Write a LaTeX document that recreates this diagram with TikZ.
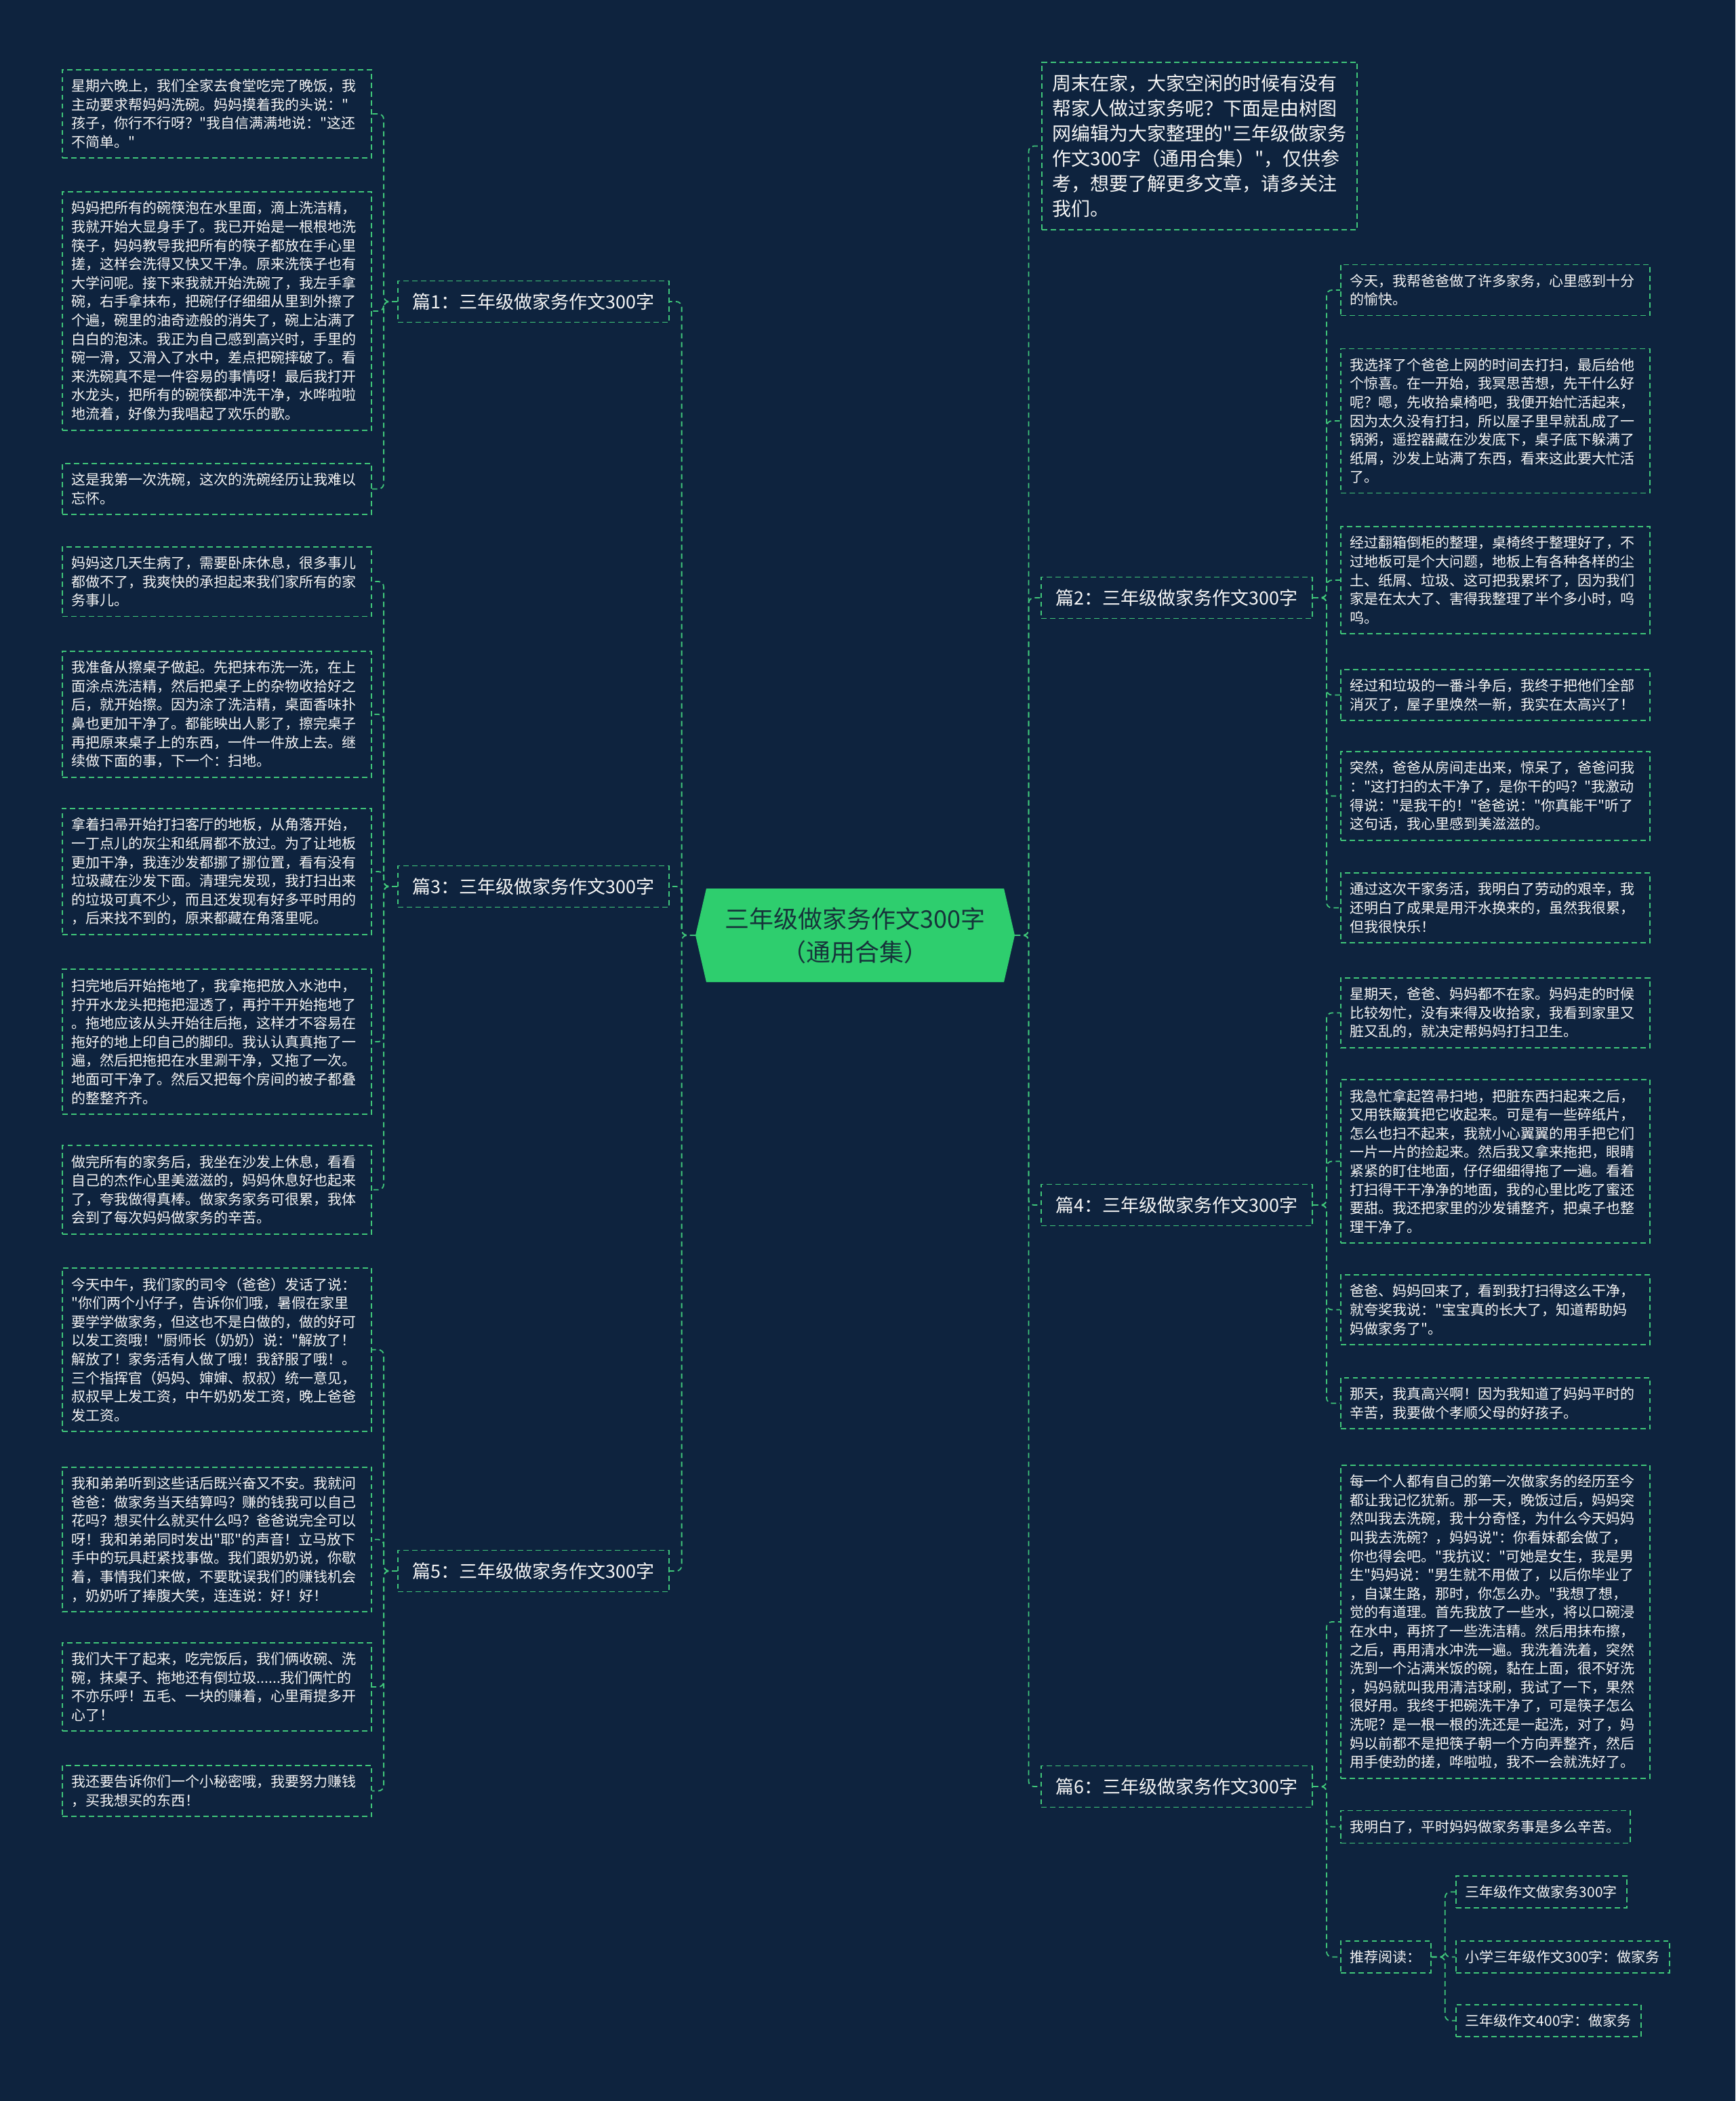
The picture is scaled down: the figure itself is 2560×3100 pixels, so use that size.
\documentclass[tikz,border=0pt]{standalone}
\usepackage{fontspec}
\setmainfont{Noto Sans CJK SC}[Ligatures=TeXOff]
\usetikzlibrary{shapes.symbols}
\definecolor{bgnavy}{RGB}{14,35,62}
\definecolor{linegreen}{RGB}{64,199,122}
\definecolor{hubgreen}{RGB}{46,206,110}
\definecolor{hubtext}{RGB}{22,52,58}
\definecolor{leaftext}{RGB}{245,245,245}

\begin{document}
\begin{tikzpicture}[x=0.5pt,y=-0.5pt,
    box/.style={draw=linegreen,line width=0.9pt,dash pattern=on 3.9pt off 2.6pt,text=leaftext},
    leaf/.style={box,anchor=west,align=left,text width=214pt,inner xsep=7pt,inner ysep=7pt,font=\fontsize{10.5}{13.8}\selectfont},
    leafauto/.style={box,anchor=west,inner xsep=7pt,inner ysep=7pt,font=\fontsize{10.5}{13.8}\selectfont},
    chapter/.style={box,minimum width=200pt,minimum height=30.5pt,inner xsep=6pt,font=\fontsize{13.5}{16}\selectfont},
    hub/.style={shape=signal,signal to=west and east,signal pointer angle=154,fill=hubgreen,text=hubtext,align=center,
        minimum width=235.5pt,minimum height=69pt,inner sep=0pt,font=\fontsize{18}{24.5}\selectfont},
    link/.style={draw=linegreen,line width=0.9pt,dash pattern=on 3.9pt off 2.6pt,rounded corners=4pt}]
    \fill[bgnavy] (0,0) rectangle (2560,3100);
    \useasboundingbox (0,0) rectangle (2560,3100);

    \node[hub] (hub) at (1261.5,1380) {三年级做家务作文300字\\（通用合集）};

    \node[chapter] (c1) at (787,445) {篇1：三年级做家务作文300字};
    \node[chapter] (c3) at (787,1308) {篇3：三年级做家务作文300字};
    \node[chapter] (c5) at (787,2318) {篇5：三年级做家务作文300字};
    \node[chapter] (c2) at (1736,882) {篇2：三年级做家务作文300字};
    \node[chapter] (c4) at (1736,1778) {篇4：三年级做家务作文300字};
    \node[chapter] (c6) at (1736,2636) {篇6：三年级做家务作文300字};

    \node[box,anchor=west,align=left,inner xsep=8pt,inner ysep=9pt,font=\fontsize{14}{18.5}\selectfont] (intro) at (1536,215.5)
        {周末在家，大家空闲的时候有没有\\帮家人做过家务呢？下面是由树图\\网编辑为大家整理的"三年级做家务\\作文300字（通用合集）"，仅供参\\考，想要了解更多文章，请多关注\\我们。};

    \node[leaf] (l1) at (91,168) {星期六晚上，我们全家去食堂吃完了晚饭，我\\主动要求帮妈妈洗碗。妈妈摸着我的头说："\\孩子，你行不行呀？"我自信满满地说："这还\\不简单。"};
    \node[leaf] (l2) at (91,459) {妈妈把所有的碗筷泡在水里面，滴上洗洁精，\\我就开始大显身手了。我已开始是一根根地洗\\筷子，妈妈教导我把所有的筷子都放在手心里\\搓，这样会洗得又快又干净。原来洗筷子也有\\大学问呢。接下来我就开始洗碗了，我左手拿\\碗，右手拿抹布，把碗仔仔细细从里到外擦了\\个遍，碗里的油奇迹般的消失了，碗上沾满了\\白白的泡沫。我正为自己感到高兴时，手里的\\碗一滑，又滑入了水中，差点把碗摔破了。看\\来洗碗真不是一件容易的事情呀！最后我打开\\水龙头，把所有的碗筷都冲洗干净，水哗啦啦\\地流着，好像为我唱起了欢乐的歌。};
    \node[leaf] (l3) at (91,721.5) {这是我第一次洗碗，这次的洗碗经历让我难以\\忘怀。};
    \node[leaf] (l4) at (91,858) {妈妈这几天生病了，需要卧床休息，很多事儿\\都做不了，我爽快的承担起来我们家所有的家\\务事儿。};
    \node[leaf] (l5) at (91,1054) {我准备从擦桌子做起。先把抹布洗一洗，在上\\面涂点洗洁精，然后把桌子上的杂物收拾好之\\后，就开始擦。因为涂了洗洁精，桌面香味扑\\鼻也更加干净了。都能映出人影了，擦完桌子\\再把原来桌子上的东西，一件一件放上去。继\\续做下面的事，下一个：扫地。};
    \node[leaf] (l6) at (91,1286) {拿着扫帚开始打扫客厅的地板，从角落开始，\\一丁点儿的灰尘和纸屑都不放过。为了让地板\\更加干净，我连沙发都挪了挪位置，看有没有\\垃圾藏在沙发下面。清理完发现，我打扫出来\\的垃圾可真不少，而且还发现有好多平时用的\\，后来找不到的，原来都藏在角落里呢。};
    \node[leaf] (l7) at (91,1537) {扫完地后开始拖地了，我拿拖把放入水池中，\\拧开水龙头把拖把湿透了，再拧干开始拖地了\\。拖地应该从头开始往后拖，这样才不容易在\\拖好的地上印自己的脚印。我认认真真拖了一\\遍，然后把拖把在水里涮干净，又拖了一次。\\地面可干净了。然后又把每个房间的被子都叠\\的整整齐齐。};
    \node[leaf] (l8) at (91,1755.5) {做完所有的家务后，我坐在沙发上休息，看看\\自己的杰作心里美滋滋的，妈妈休息好也起来\\了，夸我做得真棒。做家务家务可很累，我体\\会到了每次妈妈做家务的辛苦。};
    \node[leaf] (l9) at (91,1991.5) {今天中午，我们家的司令（爸爸）发话了说：\\"你们两个小仔子，告诉你们哦，暑假在家里\\要学学做家务，但这也不是白做的，做的好可\\以发工资哦！"厨师长（奶奶）说："解放了！\\解放了！家务活有人做了哦！我舒服了哦！。\\三个指挥官（妈妈、婶婶、叔叔）统一意见，\\叔叔早上发工资，中午奶奶发工资，晚上爸爸\\发工资。};
    \node[leaf] (l10) at (91,2271.5) {我和弟弟听到这些话后既兴奋又不安。我就问\\爸爸：做家务当天结算吗？赚的钱我可以自己\\花吗？想买什么就买什么吗？爸爸说完全可以\\呀！我和弟弟同时发出"耶"的声音！立马放下\\手中的玩具赶紧找事做。我们跟奶奶说，你歇\\着，事情我们来做，不要耽误我们的赚钱机会\\，奶奶听了捧腹大笑，连连说：好！好！};
    \node[leaf] (l11) at (91,2489) {我们大干了起来，吃完饭后，我们俩收碗、洗\\碗，抹桌子、拖地还有倒垃圾......我们俩忙的\\不亦乐呼！五毛、一块的赚着，心里甭提多开\\心了！};
    \node[leaf] (l12) at (91,2642.5) {我还要告诉你们一个小秘密哦，我要努力赚钱\\，买我想买的东西！};

    \node[leaf] (r1) at (1977,428) {今天，我帮爸爸做了许多家务，心里感到十分\\的愉快。};
    \node[leaf] (r2) at (1977,621) {我选择了个爸爸上网的时间去打扫，最后给他\\个惊喜。在一开始，我冥思苦想，先干什么好\\呢？嗯，先收拾桌椅吧，我便开始忙活起来，\\因为太久没有打扫，所以屋子里早就乱成了一\\锅粥，遥控器藏在沙发底下，桌子底下躲满了\\纸屑，沙发上站满了东西，看来这此要大忙活\\了。};
    \node[leaf] (r3) at (1977,856) {经过翻箱倒柜的整理，桌椅终于整理好了，不\\过地板可是个大问题，地板上有各种各样的尘\\土、纸屑、垃圾、这可把我累坏了，因为我们\\家是在太大了、害得我整理了半个多小时，呜\\呜。};
    \node[leaf] (r4) at (1977,1025.5) {经过和垃圾的一番斗争后，我终于把他们全部\\消灭了，屋子里焕然一新，我实在太高兴了！};
    \node[leaf] (r5) at (1977,1174.5) {突然，爸爸从房间走出来，惊呆了，爸爸问我\\："这打扫的太干净了，是你干的吗？"我激动\\得说："是我干的！"爸爸说："你真能干"听了\\这句话，我心里感到美滋滋的。};
    \node[leaf] (r6) at (1977,1339.5) {通过这次干家务活，我明白了劳动的艰辛，我\\还明白了成果是用汗水换来的，虽然我很累，\\但我很快乐！};
    \node[leaf] (r7) at (1977,1494.5) {星期天，爸爸、妈妈都不在家。妈妈走的时候\\比较匆忙，没有来得及收拾家，我看到家里又\\脏又乱的，就决定帮妈妈打扫卫生。};
    \node[leaf] (r8) at (1977,1713.5) {我急忙拿起笤帚扫地，把脏东西扫起来之后，\\又用铁簸箕把它收起来。可是有一些碎纸片，\\怎么也扫不起来，我就小心翼翼的用手把它们\\一片一片的捡起来。然后我又拿来拖把，眼睛\\紧紧的盯住地面，仔仔细细得拖了一遍。看着\\打扫得干干净净的地面，我的心里比吃了蜜还\\要甜。我还把家里的沙发铺整齐，把桌子也整\\理干净了。};
    \node[leaf] (r9) at (1977,1932.5) {爸爸、妈妈回来了，看到我打扫得这么干净，\\就夸奖我说："宝宝真的长大了，知道帮助妈\\妈做家务了"。};
    \node[leaf] (r10) at (1977,2070.5) {那天，我真高兴啊！因为我知道了妈妈平时的\\辛苦，我要做个孝顺父母的好孩子。};
    \node[leaf] (r11) at (1977,2393) {每一个人都有自己的第一次做家务的经历至今\\都让我记忆犹新。那一天，晚饭过后，妈妈突\\然叫我去洗碗，我十分奇怪，为什么今天妈妈\\叫我去洗碗？，妈妈说"：你看妹都会做了，\\你也得会吧。"我抗议："可她是女生，我是男\\生"妈妈说："男生就不用做了，以后你毕业了\\，自谋生路，那时，你怎么办。"我想了想，\\觉的有道理。首先我放了一些水，将以口碗浸\\在水中，再挤了一些洗洁精。然后用抹布擦，\\之后，再用清水冲洗一遍。我洗着洗着，突然\\洗到一个沾满米饭的碗，黏在上面，很不好洗\\，妈妈就叫我用清洁球刷，我试了一下，果然\\很好用。我终于把碗洗干净了，可是筷子怎么\\洗呢？是一根一根的洗还是一起洗，对了，妈\\妈以前都不是把筷子朝一个方向弄整齐，然后\\用手使劲的搓，哗啦啦，我不一会就洗好了。};
    \node[leafauto] (r12) at (1977,2695.5) {我明白了，平时妈妈做家务事是多么辛苦。};
    \node[leafauto] (rec) at (1977,2887.5) {推荐阅读：};
    \node[leafauto] (rec1) at (2147,2791.5) {三年级作文做家务300字};
    \node[leafauto] (rec2) at (2147,2887.5) {小学三年级作文300字：做家务};
    \node[leafauto] (rec3) at (2147,2981.5) {三年级作文400字：做家务};

    \foreach \c in {c1,c3,c5} \draw[link] (hub.west) -- ++(-20,0) |- (\c.east);
    \foreach \c in {intro,c2,c4,c6} \draw[link] (hub.east) -- ++(20,0) |- (\c.west);
    \foreach \l in {l1,l2,l3} \draw[link] (c1.west) -- ++(-20,0) |- (\l.east);
    \foreach \l in {l4,l5,l6,l7,l8} \draw[link] (c3.west) -- ++(-20,0) |- (\l.east);
    \foreach \l in {l9,l10,l11,l12} \draw[link] (c5.west) -- ++(-20,0) |- (\l.east);
    \foreach \r in {r1,r2,r3,r4,r5,r6} \draw[link] (c2.east) -- ++(20,0) |- (\r.west);
    \foreach \r in {r7,r8,r9,r10} \draw[link] (c4.east) -- ++(20,0) |- (\r.west);
    \foreach \r in {r11,r12,rec} \draw[link] (c6.east) -- ++(20,0) |- (\r.west);
    \foreach \r in {rec1,rec2,rec3} \draw[link] (rec.east) -- ++(20,0) |- (\r.west);
\end{tikzpicture}
\end{document}
